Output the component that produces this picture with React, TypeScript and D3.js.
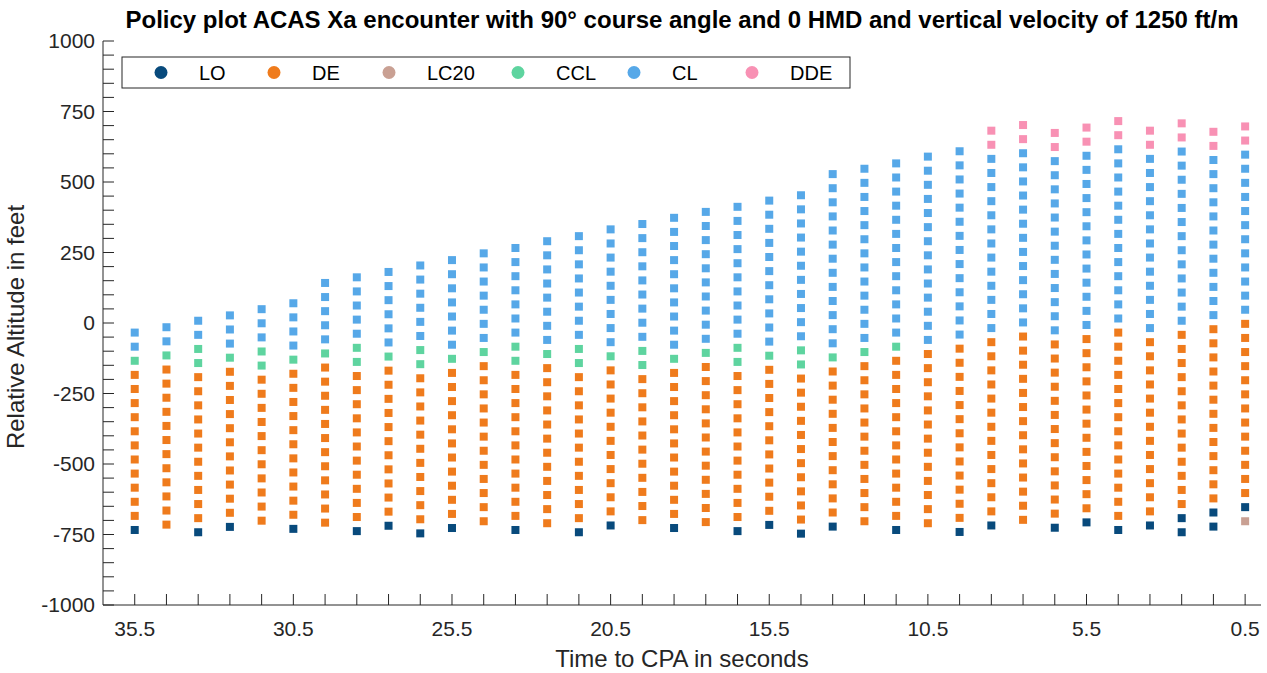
import React from 'react';
import * as d3 from 'd3';

// ---------- data ----------
const categories = ['LO', 'DE', 'LC20', 'CCL', 'CL', 'DDE'];
const categoryColors = ['#084a7c', '#ef7b1c', '#c9a093', '#5ed49f', '#56a8e8', '#f891b4'];

const timeToCpa = [
  35.5, 34.5, 33.5, 32.5, 31.5, 30.5, 29.5, 28.5, 27.5, 26.5, 25.5, 24.5,
  23.5, 22.5, 21.5, 20.5, 19.5, 18.5, 17.5, 16.5, 15.5, 14.5, 13.5, 12.5,
  11.5, 10.5, 9.5, 8.5, 7.5, 6.5, 5.5, 4.5, 3.5, 2.5, 1.5, 0.5,
];

// highest sampled relative altitude (ft) of every column
const topAltitude = [
  -34, -15, 8, 27, 49, 70, 142, 162, 181, 204, 223, 247,
  266, 290, 308, 332, 351, 373, 394, 412, 434, 453, 528, 547,
  566, 590, 609, 682, 702, 674, 693, 716, 682, 708, 678, 697,
];

// sampling interval of relative altitude (ft)
const altitudeStep = 50;

// advisories from the top of each column downward: [category, number of samples]
const columnRuns: [string, number][][] = [
  [['CL', 2], ['CCL', 1], ['DE', 11], ['LO', 1]],
  [['CL', 2], ['CCL', 1], ['DE', 12]],
  [['CL', 2], ['CCL', 2], ['DE', 11], ['LO', 1]],
  [['CL', 3], ['CCL', 1], ['DE', 11], ['LO', 1]],
  [['CL', 3], ['CCL', 2], ['DE', 11]],
  [['CL', 4], ['CCL', 1], ['DE', 11], ['LO', 1]],
  [['CL', 5], ['CCL', 1], ['DE', 12]],
  [['CL', 5], ['CCL', 2], ['DE', 11], ['LO', 1]],
  [['CL', 6], ['CCL', 1], ['DE', 11], ['LO', 1]],
  [['CL', 6], ['CCL', 2], ['DE', 11], ['LO', 1]],
  [['CL', 7], ['CCL', 1], ['DE', 11], ['LO', 1]],
  [['CL', 7], ['CCL', 1], ['DE', 12]],
  [['CL', 7], ['CCL', 2], ['DE', 11], ['LO', 1]],
  [['CL', 8], ['CCL', 1], ['DE', 12]],
  [['CL', 8], ['CCL', 2], ['DE', 11], ['LO', 1]],
  [['CL', 9], ['CCL', 1], ['DE', 11], ['LO', 1]],
  [['CL', 9], ['CCL', 2], ['DE', 11]],
  [['CL', 10], ['CCL', 1], ['DE', 11], ['LO', 1]],
  [['CL', 10], ['CCL', 1], ['DE', 12]],
  [['CL', 10], ['CCL', 2], ['DE', 11], ['LO', 1]],
  [['CL', 11], ['CCL', 1], ['DE', 11], ['LO', 1]],
  [['CL', 11], ['CCL', 2], ['DE', 11], ['LO', 1]],
  [['CL', 13], ['CCL', 1], ['DE', 11], ['LO', 1]],
  [['CL', 13], ['CCL', 1], ['DE', 12]],
  [['CL', 13], ['CCL', 1], ['DE', 12], ['LO', 1]],
  [['CL', 14], ['DE', 13]],
  [['CL', 14], ['DE', 13], ['LO', 1]],
  [['DDE', 2], ['CL', 13], ['DE', 13], ['LO', 1]],
  [['DDE', 2], ['CL', 13], ['DE', 14]],
  [['DDE', 2], ['CL', 13], ['DE', 13], ['LO', 1]],
  [['DDE', 2], ['CL', 13], ['DE', 13], ['LO', 1]],
  [['DDE', 2], ['CL', 13], ['DE', 14], ['LO', 1]],
  [['DDE', 2], ['CL', 13], ['DE', 13], ['LO', 1]],
  [['DDE', 2], ['CL', 13], ['DE', 13], ['LO', 2]],
  [['DDE', 2], ['CL', 12], ['DE', 13], ['LO', 2]],
  [['DDE', 2], ['CL', 12], ['DE', 13], ['LO', 1], ['LC20', 1]],
];

const xTickLabels = [35.5, 30.5, 25.5, 20.5, 15.5, 10.5, 5.5, 0.5];
const yTickLabels = [-1000, -750, -500, -250, 0, 250, 500, 750, 1000];

const titleText = 'Policy plot ACAS Xa encounter with 90° course angle and 0 HMD and vertical velocity of 1250 ft/m';
const xLabelText = 'Time to CPA in seconds';
const yLabelText = 'Relative Altitude in feet';

// ---------- layout ----------
const W = 1267;
const H = 673;
const left = 103;
const right = 1261;
const top = 41;
const bottom = 605;
const FONT = '"Liberation Sans", Arial, Helvetica, sans-serif';
const AXIS_COLOR = '#262626';
const legendMarkerX = [161, 274, 389, 518, 634, 752];

export default function App() {
  const x = d3.scaleLinear().domain([36.5, 0]).range([left, right]);
  const y = d3.scaleLinear().domain([-1000, 1000]).range([bottom, top]);
  const color = d3.scaleOrdinal<string, string>().domain(categories).range(categoryColors);

  const points: { t: number; alt: number; cat: string }[] = [];
  timeToCpa.forEach((t, i) => {
    let alt = topAltitude[i];
    columnRuns[i].forEach(([cat, n]) => {
      for (let k = 0; k < n; k++) {
        points.push({ t, alt, cat });
        alt -= altitudeStep;
      }
    });
  });

  const yMinorTicks = d3.range(-1000, 1000 + 1, 50);
  const ms = 8;

  return (
    <svg width={W} height={H} style={{ position: 'absolute', left: 0, top: 0, background: '#fff' }} fontFamily={FONT}>
      <rect x={0} y={0} width={W} height={H} fill="#fff" />
      {/* points */}
      <g>
        {points.map((p, i) => (
          <rect key={i} x={x(p.t) - ms / 2} y={y(p.alt) - ms / 2} width={ms} height={ms} fill={color(p.cat)} />
        ))}
      </g>
      {/* y axis */}
      <line x1={left} x2={left} y1={top} y2={bottom} stroke={AXIS_COLOR} strokeWidth={1} />
      {yMinorTicks.map((v) => (
        <line key={v} x1={left} x2={left + 11} y1={y(v)} y2={y(v)} stroke={AXIS_COLOR} strokeWidth={1} />
      ))}
      {yTickLabels.map((v) => (
        <text key={v} x={left - 8} y={y(v)} dy="0.35em" textAnchor="end" fontSize={21} fill={AXIS_COLOR}>
          {v}
        </text>
      ))}
      {/* x axis */}
      <line x1={left} x2={right} y1={bottom} y2={bottom} stroke={AXIS_COLOR} strokeWidth={1} />
      {timeToCpa.map((t) => (
        <line key={t} x1={x(t)} x2={x(t)} y1={bottom} y2={bottom - 11} stroke={AXIS_COLOR} strokeWidth={1} />
      ))}
      {xTickLabels.map((t) => (
        <text key={t} x={x(t)} y={bottom + 24} dy="0.35em" textAnchor="middle" fontSize={21} fill={AXIS_COLOR}>
          {t}
        </text>
      ))}
      {/* axis labels */}
      <text x={(left + right) / 2} y={667} textAnchor="middle" fontSize={24} fill={AXIS_COLOR}>
        {xLabelText}
      </text>
      <text transform={`translate(24, ${(top + bottom) / 2 + 4}) rotate(-90)`} textAnchor="middle" fontSize={24} fill={AXIS_COLOR}>
        {yLabelText}
      </text>
      {/* title */}
      <text x={(left + right) / 2} y={28} textAnchor="middle" fontSize={24} fontWeight="bold" fill="#000">
        {titleText}
      </text>
      {/* legend */}
      <rect x={122} y={57} width={728} height={31} fill="#fff" stroke={AXIS_COLOR} strokeWidth={1} />
      {categories.map((c, i) => (
        <g key={c}>
          <circle cx={legendMarkerX[i]} cy={72.5} r={6.5} fill={color(c)} />
          <text x={legendMarkerX[i] + 38} y={72.5} dy="0.35em" fontSize={20} fill="#000">
            {c}
          </text>
        </g>
      ))}
    </svg>
  );
}
